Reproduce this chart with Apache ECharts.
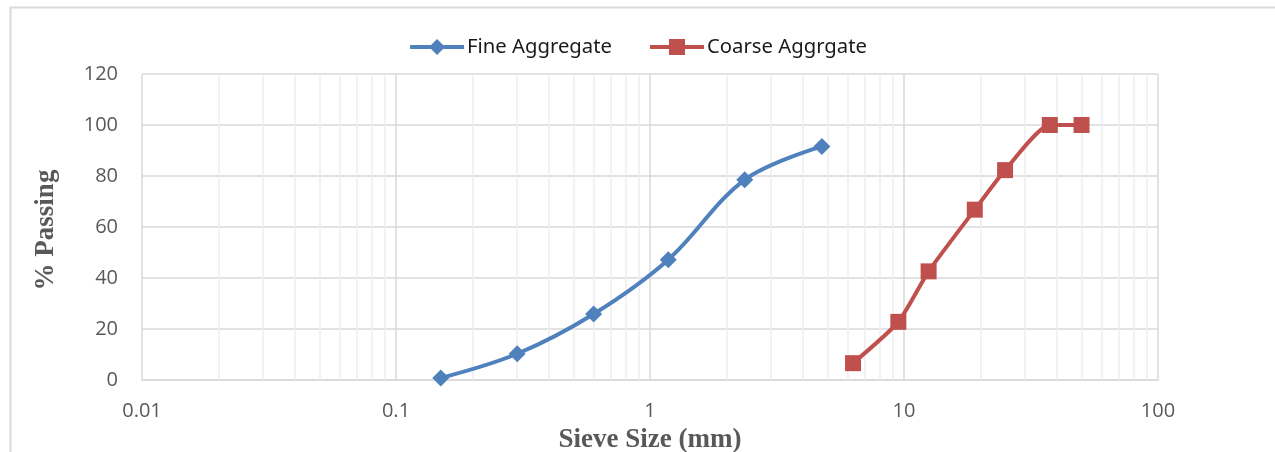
<!DOCTYPE html>
<html><head><meta charset="utf-8">
<script src="https://cdn.jsdelivr.net/npm/echarts@6/dist/echarts.min.js"></script>
<style>html,body{margin:0;padding:0;background:#fff}#c{width:1275px;height:452px}</style>
</head><body><div id="c"></div>
<script>
const fineSizes = [0.15, 0.3, 0.6, 1.18, 2.36, 4.75];
const finePassing = [0.8, 10.3, 25.9, 47.2, 78.5, 91.6];
const coarseSizes = [6.3, 9.5, 12.5, 19, 25, 37.5, 50];
const coarsePassing = [6.6, 22.8, 42.6, 66.8, 82.3, 100, 100];
const xTickLabels = ['0.01', '0.1', '1', '10', '100'];
const decades = [0.01, 0.1, 1, 10];
const minorMultipliers = [2, 3, 4, 5, 6, 7, 8, 9];

const minorLines = [];
decades.forEach(d => minorMultipliers.forEach(m => minorLines.push({ xAxis: +(d * m).toPrecision(3) })));

const chart = echarts.init(document.getElementById('c'));
const labelFont = { fontFamily: 'Open Sans', fontSize: 20, color: '#595959' };
chart.setOption({
  animation: false,
  graphic: [{
    type: 'polyline', silent: true,
    shape: { points: [[10.5, 452], [10.5, 7.5], [1275, 7.5]] },
    style: { stroke: '#d9d9d9', lineWidth: 2, fill: null }
  }],
  legend: {
    top: 32, left: 'center', itemWidth: 54, itemHeight: 20, itemGap: 36,
    lineStyle: { width: 4 },
    textStyle: { fontFamily: 'Noto Sans', fontSize: 20.3, color: '#1a1a1a', padding: [0, 0, 0, -2] },
    data: ['Fine Aggregate', 'Coarse Aggrgate']
  },
  grid: { left: 142, right: 117, top: 74, bottom: 72, containLabel: false, outerBoundsMode: 'none' },
  xAxis: {
    type: 'log', logBase: 10, min: 0.01, max: 100,
    name: 'Sieve Size (mm)', nameLocation: 'middle', nameGap: 47,
    nameTextStyle: { fontFamily: 'Liberation Serif', fontWeight: 'bold', fontSize: 27, color: '#595959' },
    axisLine: { show: true, lineStyle: { color: '#d9d9d9', width: 1.5 } },
    axisTick: { show: false },
    axisLabel: Object.assign({ margin: 21, formatter: v => {
      const i = Math.round(Math.log10(v)) + 2; return xTickLabels[i] !== undefined ? xTickLabels[i] : '';
    } }, labelFont),
    splitLine: { show: true, lineStyle: { color: '#d9d9d9', width: 1.5 } }
  },
  yAxis: {
    type: 'value', min: 0, max: 120, interval: 20,
    name: '% Passing', nameLocation: 'middle', nameGap: 82, nameRotate: 90,
    nameTextStyle: { fontFamily: 'Liberation Serif', fontWeight: 'bold', fontSize: 27, color: '#595959', padding: [0, 6, 0, 0] },
    axisLine: { show: false }, axisTick: { show: false },
    axisLabel: Object.assign({ margin: 24 }, labelFont),
    splitLine: { show: true, lineStyle: { color: '#d9d9d9', width: 1.5 } }
  },
  series: [
    {
      name: 'minor', type: 'line', data: [], z: 1, silent: true,
      markLine: {
        silent: true, z: 1, symbol: ['none', 'none'], label: { show: false },
        lineStyle: { color: '#eeeeee', width: 1.5, type: 'solid' },
        emphasis: { disabled: true },
        data: minorLines
      }
    },
    {
      name: 'Fine Aggregate', type: 'line', z: 3, smooth: 0.35,
      data: fineSizes.map((x, i) => [x, finePassing[i]]),
      symbol: 'diamond', symbolSize: 17,
      lineStyle: { color: '#4f81bd', width: 4 },
      itemStyle: { color: '#4f81bd', borderWidth: 0 }
    },
    {
      name: 'Coarse Aggrgate', type: 'line', z: 3, smooth: 0.2,
      data: coarseSizes.map((x, i) => [x, coarsePassing[i]]),
      symbol: 'rect', symbolSize: 16,
      lineStyle: { color: '#c0504d', width: 4 },
      itemStyle: { color: '#c0504d', borderWidth: 0 }
    }
  ]
});
</script></body></html>
